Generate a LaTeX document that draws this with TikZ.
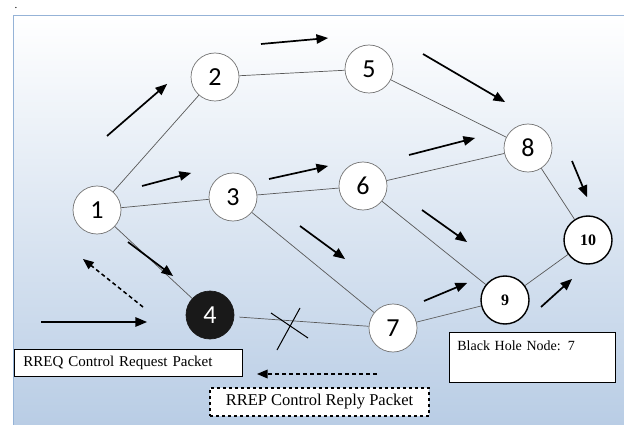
\documentclass[tikz,border=0pt]{standalone}
\usepackage{fontspec}
\setmainfont{Liberation Serif}
\setsansfont{Carlito}
\usetikzlibrary{arrows}
\usetikzlibrary{shapes}
\usetikzlibrary{calc}
\usetikzlibrary{positioning}

\definecolor{skyend}{RGB}{185,205,229}
\definecolor{framec}{RGB}{149,179,215}

\tikzset{
  peer/.style={circle, draw=black!55, line width=0.7pt, fill=white,
    minimum size=48pt, inner sep=0pt, font=\sffamily\fontsize{26}{26}\selectfont},
  sinkpeer/.style={peer, draw=black, line width=1.4pt,
    font=\rmfamily\bfseries\fontsize{16}{16}\selectfont},
  blackhole/.style={peer, draw=black!90, fill=black!90, text=white},
  link/.style={draw=black!65, line width=0.7pt},
  req/.style={-triangle 45, line width=1.7pt},
  rep/.style={-triangle 45, line width=1.5pt, dash pattern=on 4pt off 3pt},
  legend/.style={draw, fill=white, line width=0.8pt, inner sep=0pt,
    font=\fontsize{14}{14}\selectfont}
}

\begin{document}
\begin{tikzpicture}[x=1pt, y=-1pt]
  \path[use as bounding box] (0,0) rectangle (624,425);
  \shade[top color=white, bottom color=skyend] (13,15) rectangle (624,425);
  \draw[framec, line width=0.8pt] (624,15) -- (13,15) -- (13,425);
  \node[font=\fontsize{11}{11}\selectfont, anchor=base, inner sep=0pt] (dot) at (16,9) {.};

  % nodes
  \node[peer] (n1) at (97,210) {1};
  \node[peer] (n2) at (215,77) {2};
  \node[peer] (n3) at (233,197) {3};
  \node[blackhole] (n4) at (210,315) {4};
  \node[peer] (n5) at (369,69) {5};
  \node[peer] (n6) at (363,186) {6};
  \node[peer] (n7) at (393,328) {7};
  \node[peer] (n8) at (528,148) {8};
  \node[sinkpeer] (n9) at (505,300) {9};
  \node[sinkpeer] (n10) at (588,240) {10};

  % links
  \draw[link] (n1) -- (n2);
  \draw[link] (n1) -- (n3);
  \draw[link] (n1) -- (n4);
  \draw[link] (n2) -- (n5);
  \draw[link] (n5) -- (n8);
  \draw[link] (n3) -- (n6);
  \draw[link] (n6) -- (n8);
  \draw[link] (n3) -- (n7);
  \draw[link] (n6) -- (n9);
  \draw[link, shorten <=5pt] (n4) -- (n7);
  \draw[link] (n7) -- (n9);
  \draw[link] (n8) -- (n10);
  \draw[link] (n9) -- (n10);

  % broken link 4-7
  \coordinate (cutA1) at (271,313);
  \coordinate (cutA2) at (308,338);
  \coordinate (cutB1) at (277,350);
  \coordinate (cutB2) at (300,308);
  \draw[line width=1pt] (cutA1) -- (cutA2);
  \draw[line width=1pt] (cutB1) -- (cutB2);

  % request flow
  \coordinate (q12a) at (107,136); \coordinate (q12b) at (167,84);
  \coordinate (q25a) at (261,44);  \coordinate (q25b) at (328,38);
  \coordinate (q58a) at (423,54);  \coordinate (q58b) at (505,102);
  \coordinate (q68a) at (409,155); \coordinate (q68b) at (475,138);
  \coordinate (q810a) at (572,161); \coordinate (q810b) at (587,197);
  \coordinate (q13a) at (142,186); \coordinate (q13b) at (191,173);
  \coordinate (q14a) at (128,242); \coordinate (q14b) at (173,276);
  \coordinate (q36a) at (269,179); \coordinate (q36b) at (328,166);
  \coordinate (q37a) at (300,226); \coordinate (q37b) at (345,259);
  \coordinate (q69a) at (422,210); \coordinate (q69b) at (467,242);
  \coordinate (q79a) at (424,301); \coordinate (q79b) at (467,283);
  \coordinate (q910a) at (541,307); \coordinate (q910b) at (572,279);
  \draw[req] (q12a) -- (q12b);
  \draw[req] (q25a) -- (q25b);
  \draw[req] (q58a) -- (q58b);
  \draw[req] (q68a) -- (q68b);
  \draw[req] (q810a) -- (q810b);
  \draw[req] (q13a) -- (q13b);
  \draw[req] (q14a) -- (q14b);
  \draw[req] (q36a) -- (q36b);
  \draw[req] (q37a) -- (q37b);
  \draw[req] (q69a) -- (q69b);
  \draw[req] (q79a) -- (q79b);
  \draw[req] (q910a) -- (q910b);

  % reply flow
  \coordinate (p41a) at (143,307); \coordinate (p41b) at (83,259);
  \draw[rep] (p41a) -- (p41b);

  % legend
  \coordinate (keyqa) at (41,322); \coordinate (keyqb) at (147,322);
  \draw[req] (keyqa) -- (keyqb);
  \coordinate (keypa) at (377,374); \coordinate (keypb) at (257,374);
  \draw[rep] (keypa) -- (keypb);
  \node[legend, anchor=north west, minimum width=228pt, minimum height=27pt,
    text width=210pt, align=left, font=\fontsize{15}{15}\selectfont]
    (reqkey) at (14,349) {RREQ Control Request Packet};
  \node[legend, dashed, line width=1.3pt, minimum width=219pt, minimum height=28pt,
    font=\fontsize{16.5}{16.5}\selectfont]
    (repkey) at (319.5,402) {RREP Control Reply Packet};
  \node[legend, anchor=north west, minimum width=166pt, text width=150pt,
    align=left, inner ysep=8pt, text height=10pt, text depth=24pt]
    (holekey) at (449,332) {Black Hole Node: 7};
\end{tikzpicture}
\end{document}
